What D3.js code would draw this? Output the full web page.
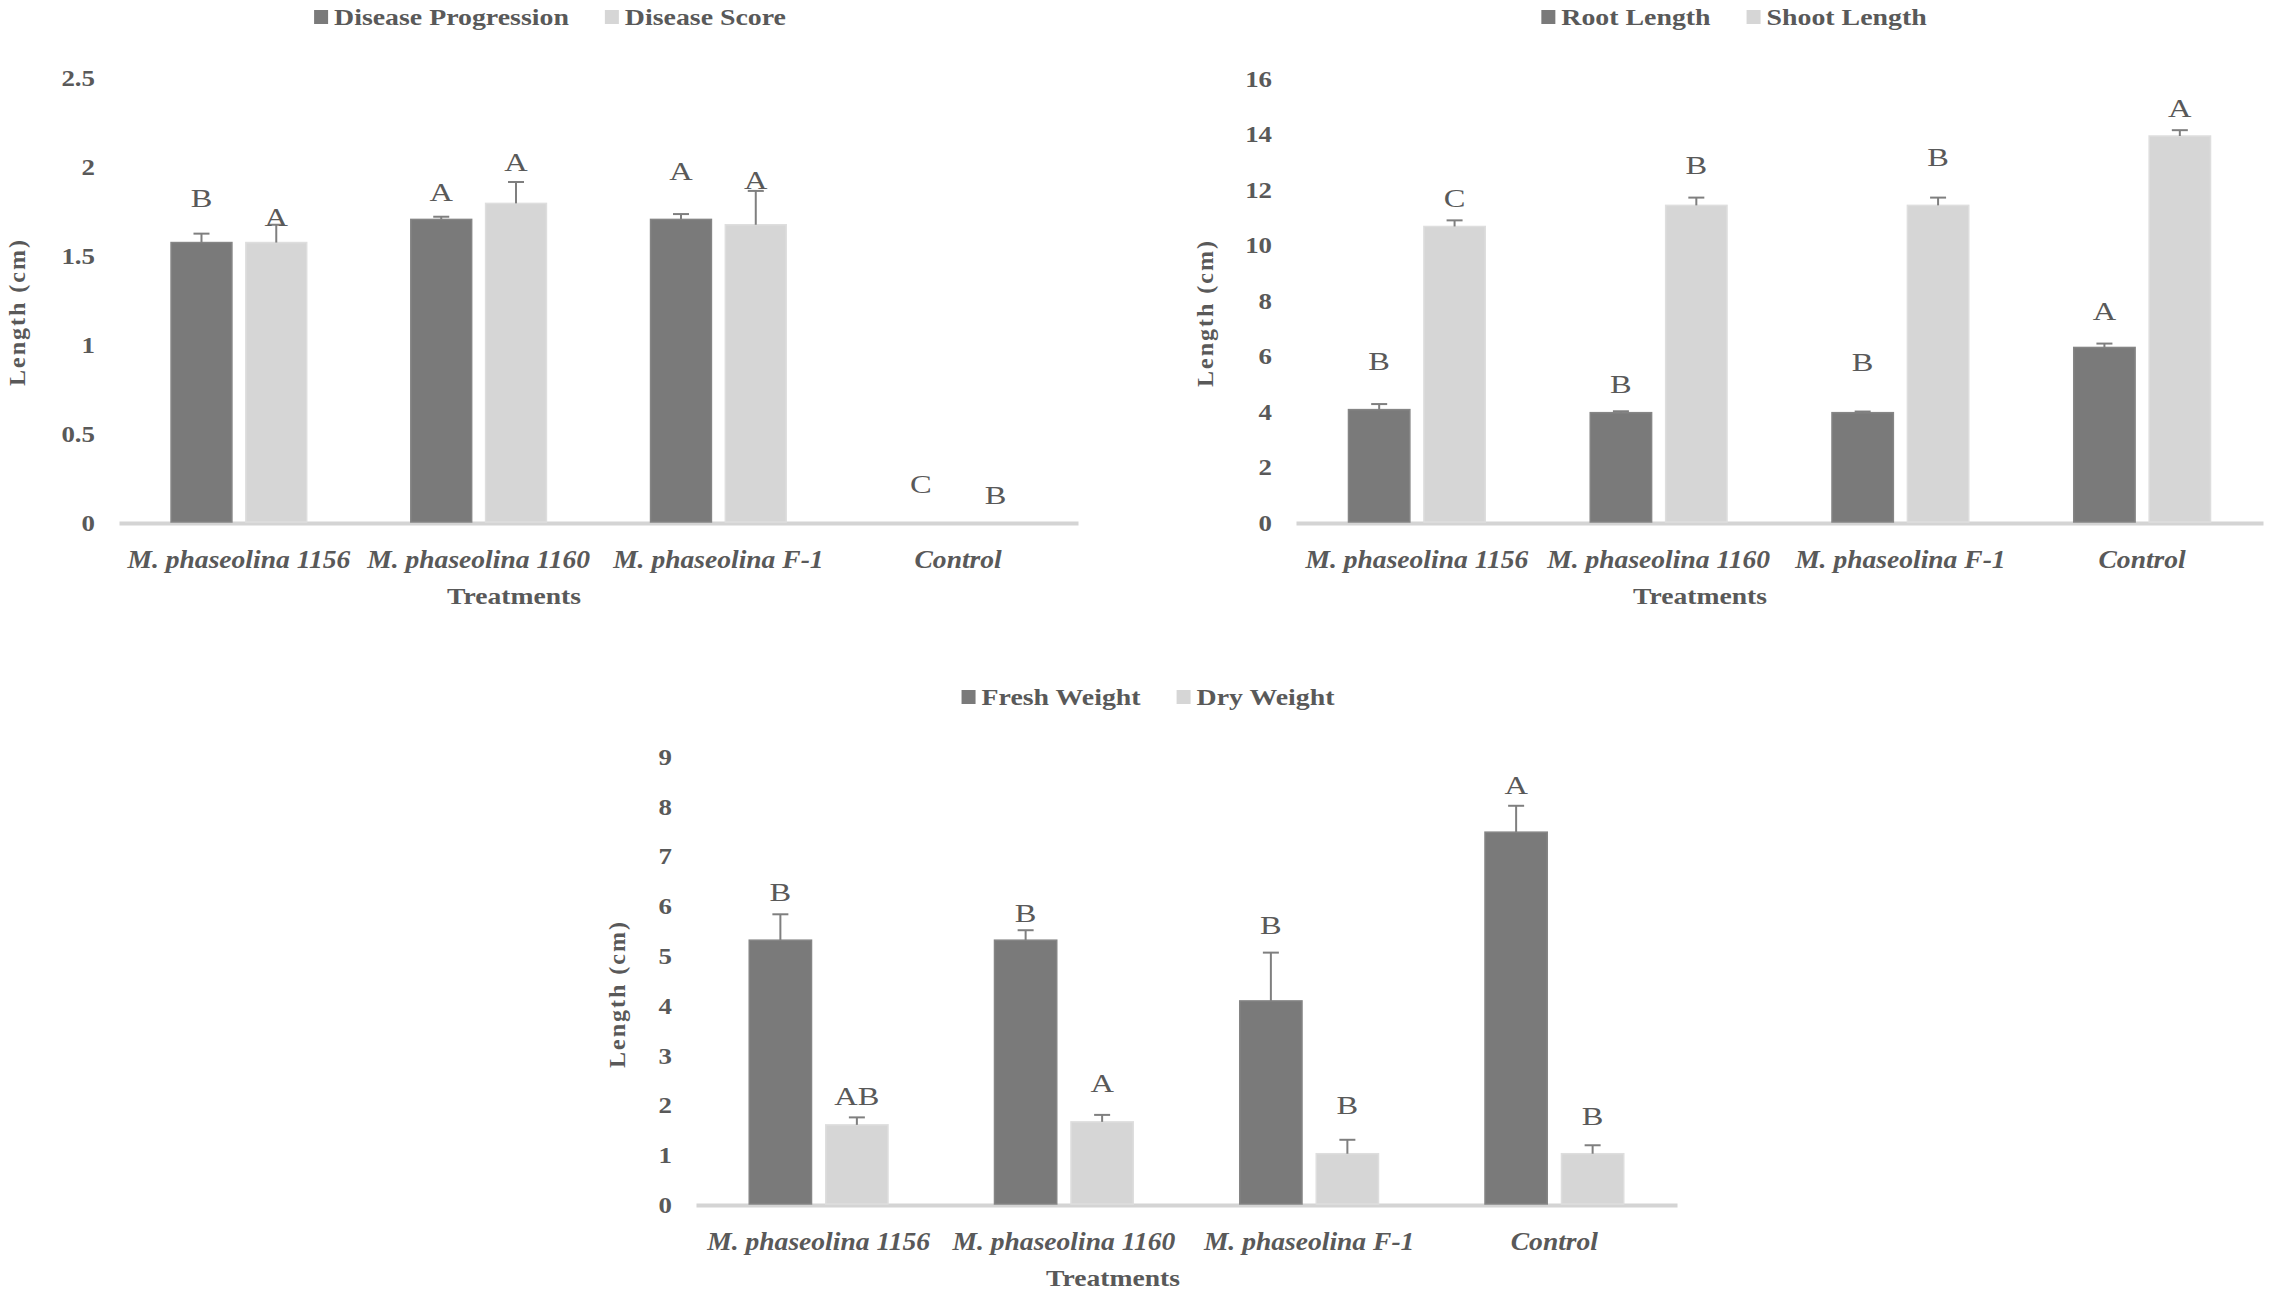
<!DOCTYPE html>
<html>
<head>
<meta charset="utf-8">
<script src="https://cdn.jsdelivr.net/npm/d3@7"></script>
<style>
  body { margin: 0; background: #fff; }
  svg { display: block; }
  text { font-family: "Liberation Serif", "Times New Roman", serif; fill: #595959; }
</style>
</head>
<body>
<svg id="fig" width="2272" height="1298"></svg>
<script>
// ---- data ----
const treatments = ["M. phaseolina 1156", "M. phaseolina 1160", "M. phaseolina F-1", "Control"];

// chart 1
const diseaseProgression = [1.57, 1.70, 1.70, 0];
const diseaseProgressionErr = [0.05, 0.015, 0.03, 0];
const diseaseProgressionLetters = ["B", "A", "A", "C"];
const diseaseProgressionLetterAt = [1.82, 1.85, 1.97, 0.21];
const diseaseScore = [1.57, 1.79, 1.67, 0];
const diseaseScoreErr = [0.10, 0.12, 0.19, 0];
const diseaseScoreLetters = ["A", "A", "A", "B"];
const diseaseScoreLetterAt = [1.71, 2.02, 1.92, 0.15];
const ticks1 = [0, 0.5, 1, 1.5, 2, 2.5];

// chart 2
const rootLength = [4.05, 3.94, 3.94, 6.29];
const rootLengthErr = [0.20, 0.05, 0.04, 0.14];
const rootLetters = ["B", "B", "B", "A"];
const rootLetterAt = [5.78, 4.98, 5.74, 7.61];
const shootLength = [10.65, 11.41, 11.41, 13.91];
const shootLengthErr = [0.22, 0.28, 0.28, 0.21];
const shootLetters = ["C", "B", "B", "A"];
const shootLetterAt = [11.67, 12.85, 13.15, 14.91];
const ticks2 = [0, 2, 4, 6, 8, 10, 12, 14, 16];

// chart 3
const freshWeight = [5.30, 5.30, 4.08, 7.47];
const freshWeightErr = [0.52, 0.20, 0.97, 0.53];
const freshLetters = ["B", "B", "B", "A"];
const freshLetterAt = [6.27, 5.84, 5.60, 8.41];
const dryWeight = [1.59, 1.65, 1.01, 1.01];
const dryWeightErr = [0.15, 0.14, 0.28, 0.17];
const dryLetters = ["AB", "A", "B", "B"];
const dryLetterAt = [2.16, 2.43, 1.98, 1.76];
const ticks3 = [0, 1, 2, 3, 4, 5, 6, 7, 8, 9];

const DARK = "#7a7a7a";
const LIGHT = "#d6d6d6";

function makeSeries(name, values, errs, letters, letterAt){
    return treatments.map((t, i) => ({
        treatment: t, value: values[i], err: errs[i],
        letter: letters[i], letterAt: letterAt[i], name
    }));
}

const charts = [
    {
        x0: 119, x1: 1078, yTop: 77, yBase: 522, max: 2.5, ticks: ticks1,
        yTitleX: 17, yTitleY: 312, legendY: 17, legendCx: 550, titleCx: 514,
        series: [
            {name: "Disease Progression", color: DARK,
             rows: makeSeries("Disease Progression", diseaseProgression, diseaseProgressionErr, diseaseProgressionLetters, diseaseProgressionLetterAt)},
            {name: "Disease Score", color: LIGHT,
             rows: makeSeries("Disease Score", diseaseScore, diseaseScoreErr, diseaseScoreLetters, diseaseScoreLetterAt)}
        ]
    },
    {
        x0: 1296, x1: 2263, yTop: 78, yBase: 522, max: 16, ticks: ticks2,
        yTitleX: 1205, yTitleY: 313, legendY: 17, legendCx: 1734, titleCx: 1700,
        series: [
            {name: "Root Length", color: DARK,
             rows: makeSeries("Root Length", rootLength, rootLengthErr, rootLetters, rootLetterAt)},
            {name: "Shoot Length", color: LIGHT,
             rows: makeSeries("Shoot Length", shootLength, shootLengthErr, shootLetters, shootLetterAt)}
        ]
    },
    {
        x0: 696, x1: 1677, yTop: 756, yBase: 1204, max: 9, ticks: ticks3,
        yTitleX: 617, yTitleY: 994, legendY: 697, legendCx: 1148, titleCx: 1113,
        series: [
            {name: "Fresh Weight", color: DARK,
             rows: makeSeries("Fresh Weight", freshWeight, freshWeightErr, freshLetters, freshLetterAt)},
            {name: "Dry Weight", color: LIGHT,
             rows: makeSeries("Dry Weight", dryWeight, dryWeightErr, dryLetters, dryLetterAt)}
        ]
    }
];

const svg = d3.select("#fig");
svg.append("rect").attr("width", 2272).attr("height", 1298).attr("fill", "#fff");

// the original figure's text is a bit stretched sideways
function stretched(g, x, y, str, sx){
    return g.append("text")
        .attr("transform", `translate(${x},${y}) scale(${sx},1)`)
        .text(str);
}

charts.forEach(drawChart);

function drawChart(c){
    let g = svg.append("g");
    let xScale = d3.scaleBand().domain(treatments).range([c.x0, c.x1]);
    let inner = d3.scaleBand().domain(c.series.map(s => s.name))
        .range([0, xScale.bandwidth()])
        .paddingInner(0.186).paddingOuter(0.696);
    let yScale = d3.scaleLinear().domain([0, c.max]).range([c.yBase, c.yTop]);

    // y axis labels (no line)
    let yAxis = g.append("g")
        .attr("transform", `translate(${c.x0},0)`)
        .call(d3.axisLeft(yScale).tickValues(c.ticks).tickSize(0).tickFormat(d3.format("")));
    yAxis.select(".domain").remove();
    yAxis.selectAll("text")
        .attr("x", null).attr("dy", "0.35em")
        .attr("transform", "translate(-24,0) scale(1.12,1)")
        .attr("text-anchor", "end")
        .style("font-family", '"Liberation Serif", serif')
        .style("font-size", "24px").style("font-weight", "bold").style("fill", "#595959");

    // x axis
    let xAxis = g.append("g")
        .attr("transform", `translate(0,${c.yBase + 1})`)
        .call(d3.axisBottom(xScale).tickSize(0).tickSizeOuter(0));
    xAxis.select(".domain").attr("stroke", "#d4d4d4").attr("stroke-width", 4);
    xAxis.selectAll("text")
        .attr("y", null).attr("dy", "0.35em")
        .attr("transform", "translate(0,36) scale(1.06,1)")
        .style("font-family", '"Liberation Serif", serif')
        .style("font-size", "26px").style("font-style", "italic").style("font-weight", "bold")
        .style("fill", "#595959");

    // bars
    c.series.forEach(s => {
        g.append("g").selectAll("rect").data(s.rows).enter()
            .append("rect")
            .attr("x", d => xScale(d.treatment) + inner(d.name))
            .attr("y", d => yScale(d.value))
            .attr("width", inner.bandwidth())
            .attr("height", d => yScale(0) - yScale(d.value))
            .attr("fill", s.color)
            .attr("stroke", s.color === DARK ? "#858585" : "#dedede")
            .attr("stroke-width", 1.5);

        // positive error bars
        let eg = g.append("g").attr("stroke", "#7f7f7f").attr("stroke-width", 2).attr("fill", "none");
        s.rows.filter(d => d.err > 0).forEach(d => {
            let cx = xScale(d.treatment) + inner(d.name) + inner.bandwidth() / 2;
            let yTop = yScale(d.value + d.err);
            eg.append("line").attr("x1", cx).attr("x2", cx)
                .attr("y1", yScale(d.value)).attr("y2", yTop);
            eg.append("line").attr("x1", cx - 8).attr("x2", cx + 8)
                .attr("y1", yTop).attr("y2", yTop);
        });

        // significance letters
        s.rows.forEach(d => {
            let cx = xScale(d.treatment) + inner(d.name) + inner.bandwidth() / 2;
            stretched(g, cx, yScale(d.letterAt), d.letter, 1.3)
                .attr("text-anchor", "middle").attr("dy", "0.35em")
                .style("font-size", "25px");
        });
    });

    // y title
    g.append("text")
        .attr("transform", `translate(${c.yTitleX},${c.yTitleY}) rotate(-90)`)
        .attr("text-anchor", "middle").attr("dy", "0.35em")
        .style("font-size", "24px").style("font-weight", "bold").style("letter-spacing", "2px")
        .text("Length (cm)");

    // x title
    stretched(g, c.titleCx, c.yBase + 74, "Treatments", 1.15)
        .attr("text-anchor", "middle").attr("dy", "0.35em")
        .style("font-size", "24px").style("font-weight", "bold");

    // legend
    let lg = g.append("g");
    let x = 0;
    c.series.forEach((s, i) => {
        if(i > 0) x += 36;
        lg.append("rect").attr("x", x).attr("y", c.legendY - 7)
            .attr("width", 14).attr("height", 14).attr("fill", s.color);
        x += 20;
        let t = stretched(lg, x, c.legendY, s.name, 1.16)
            .attr("dy", "0.35em")
            .style("font-size", "24px").style("font-weight", "bold");
        x += t.node().getComputedTextLength() * 1.16;
    });
    lg.attr("transform", `translate(${c.legendCx - x / 2},0)`);
}
</script>
</body>
</html>
